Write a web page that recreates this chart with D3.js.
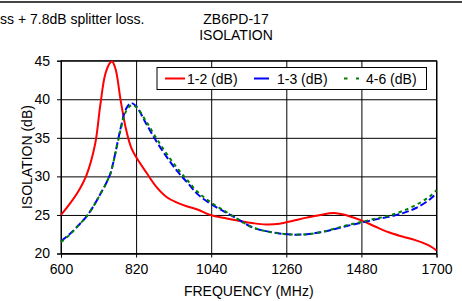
<!DOCTYPE html>
<html>
<head>
<meta charset="utf-8">
<script src="https://cdn.jsdelivr.net/npm/d3@7"></script>
<style>
  body { margin: 0; background: #fff; }
  svg text { font-family: "Liberation Sans", Arial, sans-serif; font-size: 14px; fill: #000; }
</style>
</head>
<body>
<div id="chart"></div>
<script>
// frequency points (MHz)
var freq = [600, 625, 650, 675, 700, 715, 730, 745, 750, 760, 775, 790, 805, 820, 850, 880, 910, 940, 970, 1000,
            1040, 1080, 1120, 1160, 1200, 1240, 1280, 1320, 1360, 1400, 1440, 1480, 1520, 1560, 1600, 1640, 1680, 1700];
// isolation 1-2 (dB)
var iso12 = [25.0, 26.4, 28.0, 30.2, 34.2, 39.2, 43.3, 44.8, 44.9, 43.9, 39.8, 36.2, 33.8, 32.5, 30.5, 28.6, 27.3, 26.6, 26.1, 25.7,
             24.95, 24.6, 24.25, 23.95, 23.75, 23.85, 24.25, 24.65, 25.0, 25.25, 24.9, 24.3, 23.5, 22.75, 22.2, 21.7, 21.0, 20.4];
// isolation 1-3 (dB)
var iso13 = [21.6, 22.5, 23.6, 24.8, 26.5, 27.7, 28.9, 30.4, 31.2, 33.2, 36.3, 38.7, 39.5, 39.1, 36.8, 34.5, 32.5, 30.7, 29.2, 27.7,
             26.4, 25.4, 24.4, 23.4, 22.9, 22.6, 22.45, 22.5, 22.75, 23.15, 23.6, 24.0, 24.4, 24.75, 25.2, 25.9, 27.0, 27.8];
// isolation 4-6 (dB)
var iso46 = [21.5, 22.4, 23.6, 24.8, 26.5, 27.7, 28.9, 30.4, 31.2, 33.1, 36.1, 38.4, 39.2, 39.0, 37.1, 34.9, 32.9, 31.1, 29.5, 28.0,
             26.6, 25.5, 24.4, 23.4, 22.9, 22.6, 22.45, 22.5, 22.75, 23.2, 23.7, 24.1, 24.5, 24.9, 25.5, 26.3, 27.4, 28.2];

var xTicks = [600, 820, 1040, 1260, 1480, 1700];
var yTicks = [20, 25, 30, 35, 40, 45];

var SERIES = [
  { name: "1-2 (dB)", values: iso12, color: "#ff0000", dash: null },
  { name: "1-3 (dB)", values: iso13, color: "#0000ff", dash: "7,3" },
  { name: "4-6 (dB)", values: iso46, color: "#008000", dash: "3.5,3.5" }
];

var W = 462, H = 301;
var margin = { top: 60.7, right: 25.5, bottom: 47.5, left: 61 };
var width = W - margin.left - margin.right;
var height = H - margin.top - margin.bottom;

var svg = d3.select("#chart").append("svg")
  .attr("width", W)
  .attr("height", H);

// page header bits
svg.append("line")
  .attr("x1", 0).attr("x2", W)
  .attr("y1", 2).attr("y2", 2)
  .attr("stroke", "#444").attr("stroke-width", 2);

svg.append("text")
  .attr("x", 0).attr("y", 24)
  .text("ss + 7.8dB splitter loss.");

svg.append("text")
  .attr("x", 236).attr("y", 24)
  .attr("text-anchor", "middle")
  .text("ZB6PD-17");
svg.append("text")
  .attr("x", 236).attr("y", 40)
  .attr("text-anchor", "middle")
  .text("ISOLATION");

var g = svg.append("g")
  .attr("transform", "translate(" + margin.left + "," + margin.top + ")");

// SCALES
var x = d3.scaleLinear().domain([600, 1700]).range([0, width]);
var y = d3.scaleLinear().domain([20, 45]).range([height, 0]);

// gridlines
g.append("g")
  .attr("class", "grid")
  .call(d3.axisLeft(y).tickValues(yTicks).tickSize(-width).tickFormat(""))
  .call(function(s) { s.select(".domain").remove(); })
  .selectAll("line").attr("stroke", "#000").attr("stroke-width", 1);

g.append("g")
  .attr("class", "grid")
  .attr("transform", "translate(0," + height + ")")
  .call(d3.axisBottom(x).tickValues(xTicks).tickSize(-height).tickFormat(""))
  .call(function(s) { s.select(".domain").remove(); })
  .selectAll("line").attr("stroke", "#000").attr("stroke-width", 1);

// plot box
g.append("rect")
  .attr("x", 0).attr("y", 0)
  .attr("width", width).attr("height", height)
  .attr("fill", "none").attr("stroke", "#000").attr("stroke-width", 1);

// AXES
var gx = g.append("g")
  .attr("transform", "translate(0," + height + ")")
  .call(d3.axisBottom(x).tickValues(xTicks).tickSize(4).tickPadding(7).tickFormat(d3.format("d")));
gx.select(".domain").attr("stroke", "#000");
gx.selectAll("text").style("font-size", "14px").attr("fill", "#000");

var gy = g.append("g")
  .call(d3.axisLeft(y).tickValues(yTicks).tickSize(4).tickPadding(7));
gy.select(".domain").attr("stroke", "#000");
gy.selectAll("text").style("font-size", "14px").attr("fill", "#000");

// axis titles
svg.append("text")
  .attr("x", margin.left + width / 2).attr("y", 296)
  .attr("text-anchor", "middle")
  .text("FREQUENCY (MHz)");

svg.append("text")
  .attr("transform", "translate(32," + (margin.top + height / 2) + ") rotate(-90)")
  .attr("text-anchor", "middle")
  .text("ISOLATION (dB)");

// LINES
var line = d3.line()
  .x(function(d, i) { return x(freq[i]); })
  .y(function(d) { return y(d); })
  .curve(d3.curveCatmullRom.alpha(0.5));

SERIES.forEach(function(s) {
  g.append("path")
    .datum(s.values)
    .attr("fill", "none")
    .attr("stroke", s.color)
    .attr("stroke-width", 2)
    .attr("stroke-dasharray", s.dash)
    .attr("d", line);
});

// LEGEND
var legend = svg.append("g");
legend.append("rect")
  .attr("x", 157).attr("y", 67.5)
  .attr("width", 269.5).attr("height", 22)
  .attr("fill", "#fff").attr("stroke", "#000").attr("stroke-width", 1);

var legendX = [165, 254, 344];
var legendTextX = [187, 277, 366];
var legendDash = [null, null, "3.5,8.5"];
SERIES.forEach(function(s, i) {
  legend.append("line")
    .attr("x1", legendX[i]).attr("x2", legendX[i] + (i == 0 ? 20 : 15))
    .attr("y1", 78.5).attr("y2", 78.5)
    .attr("stroke", s.color).attr("stroke-width", 2)
    .attr("stroke-dasharray", legendDash[i]);
  legend.append("text")
    .attr("x", legendTextX[i]).attr("y", 83.5)
    .text(s.name);
});
</script>
</body>
</html>
